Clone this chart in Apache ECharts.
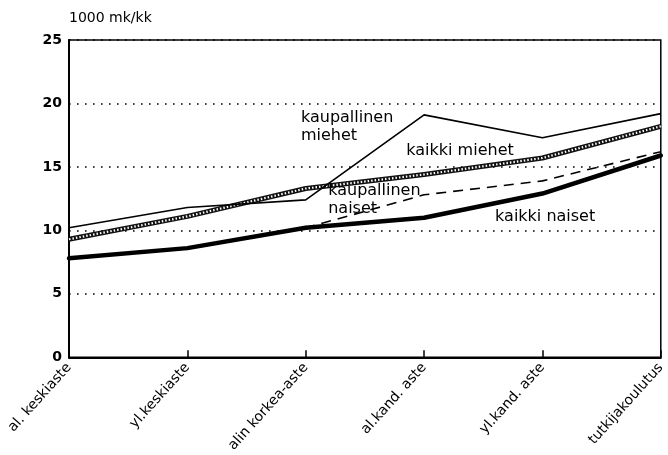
<!DOCTYPE html>
<html>
<head>
<meta charset="utf-8">
<script src="https://cdn.jsdelivr.net/npm/echarts@6/dist/echarts.min.js"></script>
<style>
  html, body { margin: 0; padding: 0; background: #fff; }
  #chart { width: 668px; height: 455px; }
</style>
</head>
<body>
<div id="chart"></div>
<script>
// Koulutusasteet
const categories = ['al. keskiaste', 'yl.keskiaste', 'alin korkea-aste', 'al.kand. aste', 'yl.kand. aste', 'tutkijakoulutus'];

// Keskiansiot, 1000 mk/kk
const kaupallinenMiehet = [10.2, 11.8, 12.4, 19.1, 17.3, 19.2];
const kaikkiMiehet = [9.3, 11.1, 13.3, 14.4, 15.7, 18.2];
const kaupallinenNaiset = [7.8, 8.6, 10.2, 12.8, 13.9, 16.2];
const kaikkiNaiset = [7.8, 8.6, 10.2, 11.0, 12.9, 15.9];

const yTicks = [0, 5, 10, 15, 20, 25];

// Sarjojen nimet viivojen vieressä: [teksti, luokkaindeksi, arvo (tekstin yläreuna)]
const seriesLabels = [
  ['kaupallinen\nmiehet', 1.96, 19.6],
  ['kaikki miehet', 2.85, 17.0],
  ['kaupallinen\nnaiset', 2.19, 13.8],
  ['kaikki naiset', 3.6, 11.8]
];

const FONT = '"DejaVu Sans", sans-serif';
const chart = echarts.init(document.getElementById('chart'), null, { renderer: 'canvas' });

const option = {
  animation: false,
  backgroundColor: '#fff',
  grid: {
    left: 69, right: 5, top: 40, bottom: 92,
    show: true, borderColor: '#000', borderWidth: 1.5, backgroundColor: 'transparent'
  },
  xAxis: {
    type: 'category',
    data: categories,
    boundaryGap: false,
    axisLine: { lineStyle: { color: '#000', width: 2 } },
    axisTick: { inside: true, length: 7, alignWithLabel: true, lineStyle: { color: '#000', width: 1.5 } },
    axisLabel: {
      interval: 0, rotate: 48, margin: 8,
      color: '#000', fontFamily: FONT, fontSize: 14
    },
    splitLine: { show: false }
  },
  yAxis: {
    type: 'value',
    min: yTicks[0], max: yTicks[yTicks.length - 1], interval: 5,
    name: '1000 mk/kk',
    nameLocation: 'end',
    nameGap: 22,
    nameTextStyle: { color: '#000', fontFamily: FONT, fontSize: 14, align: 'left', verticalAlign: 'middle' },
    axisLine: { show: true, lineStyle: { color: '#000', width: 2 } },
    axisTick: { show: false },
    axisLabel: {
      margin: 7, color: '#000', fontFamily: FONT, fontSize: 14, fontWeight: 'bold',
      formatter: v => yTicks.includes(v) ? String(v) : ''
    },
    splitLine: { show: true, lineStyle: { color: '#000', width: 1.6, type: [1.6, 6.4] } }
  },
  series: [
    {
      name: 'kaupallinen naiset', type: 'line', data: kaupallinenNaiset,
      symbol: 'none', z: 2,
      lineStyle: { color: '#000', width: 1.6, type: [10, 7] }
    },
    {
      name: 'kaikki naiset', type: 'line', data: kaikkiNaiset,
      symbol: 'none', z: 3,
      lineStyle: { color: '#000', width: 4.5, cap: 'round', join: 'round' }
    },
    {
      name: 'kaikki miehet', type: 'line', data: kaikkiMiehet,
      symbol: 'none', z: 4,
      lineStyle: { color: '#111', width: 5, join: 'round' }
    },
    {
      // kuvioinnin vaaleat täplät saman viivan päällä
      name: 'kaikki miehet (kuvio)', type: 'line', data: kaikkiMiehet,
      symbol: 'none', z: 5, silent: true,
      lineStyle: { color: '#fff', width: 2.2, type: [1.5, 2] }
    },
    {
      name: 'kaupallinen miehet', type: 'line', data: kaupallinenMiehet,
      symbol: 'none', z: 6,
      lineStyle: { color: '#000', width: 1.6, join: 'round' }
    }
  ]
};

chart.setOption(option);

// Luokka-akselin murtoindeksi pikseleiksi
function catToPx(idx) {
  const i0 = Math.max(0, Math.min(categories.length - 2, Math.floor(idx)));
  const x0 = chart.convertToPixel({ xAxisIndex: 0 }, i0);
  const x1 = chart.convertToPixel({ xAxisIndex: 0 }, i0 + 1);
  return x0 + (x1 - x0) * (idx - i0);
}

chart.setOption({
  graphic: seriesLabels.map(([text, idx, val]) => ({
    type: 'text',
    x: catToPx(idx),
    y: chart.convertToPixel({ yAxisIndex: 0 }, val),
    z: 100,
    style: {
      text: text,
      fill: '#000',
      font: '16px ' + FONT,
      lineHeight: 18,
      textAlign: 'left',
      textVerticalAlign: 'top'
    }
  }))
});
</script>
</body>
</html>
